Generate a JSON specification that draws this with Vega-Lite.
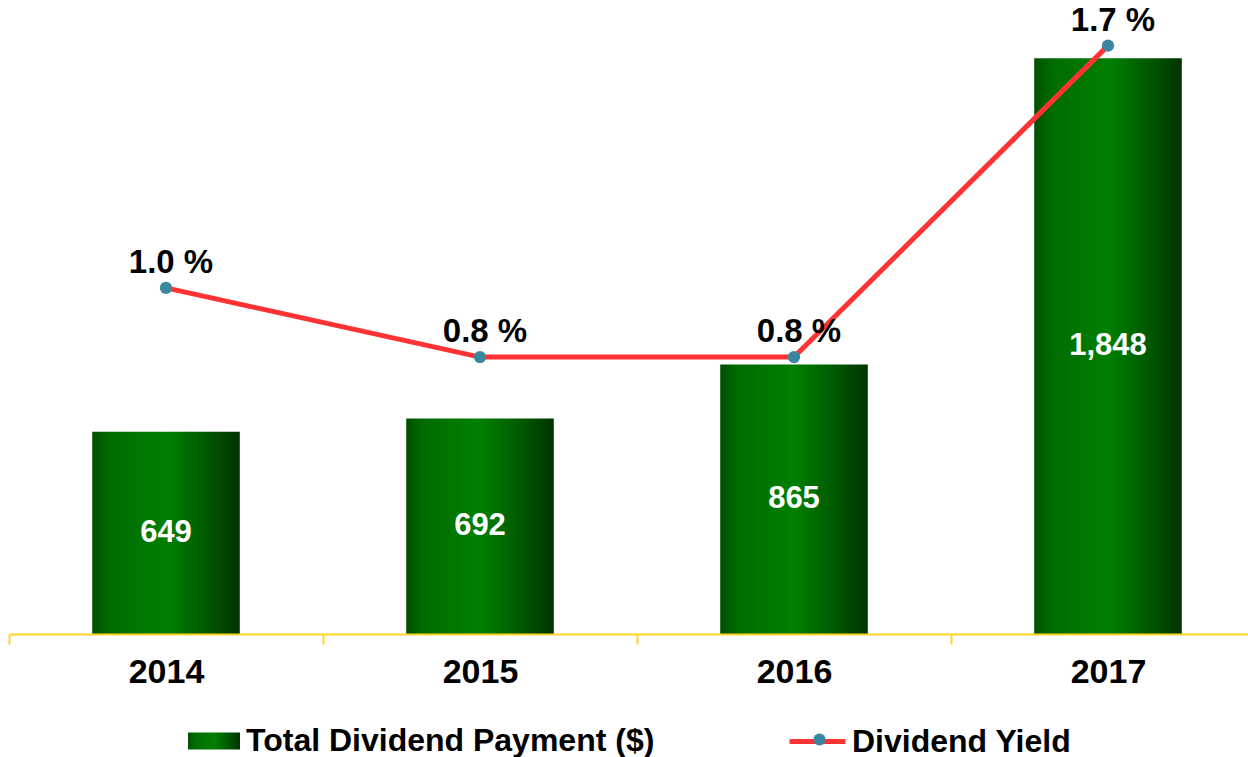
{
  "$schema": "https://vega.github.io/schema/vega-lite/v6.json",
  "width": 1239,
  "height": 623,
  "autosize": {"type": "none"},
  "padding": {"left": 9, "top": 11, "right": 0, "bottom": 123},
  "background": "white",
  "config": {
    "view": {"stroke": null},
    "font": "Liberation Sans",
    "locale": {"number": {"decimal": ".", "thousands": ",", "grouping": [3], "currency": ["", " %"]}},
    "legend": {"padding": 0}
  },
  "data": {
    "values": [
      {"year": "2014", "payment": 649, "yield": 1.0},
      {"year": "2015", "payment": 692, "yield": 0.8},
      {"year": "2016", "payment": 865, "yield": 0.8},
      {"year": "2017", "payment": 1848, "yield": 1.7}
    ]
  },
  "encoding": {
    "x": {
      "field": "year",
      "type": "nominal",
      "scale": {"range": [0, 1256], "paddingInner": 0, "paddingOuter": 0},
      "axis": {
        "title": null,
        "labelFontSize": 34,
        "labelFontWeight": "bold",
        "labelColor": "black",
        "labelPadding": 11,
        "labelAngle": 0,
        "tickBand": "extent",
        "tickColor": "#FFD42A",
        "tickSize": 10,
        "tickWidth": 2,
        "domainColor": "#FFD42A",
        "domainWidth": 2,
        "grid": false,
        "zindex": 1
      }
    }
  },
  "layer": [
    {
      "mark": {"type": "bar", "width": {"band": 0.47}, "fill": {"gradient": "linear", "x1": 0, "y1": 0, "x2": 1, "y2": 0, "stops": [
            {"offset": 0, "color": "#005000"},
            {"offset": 0.12, "color": "#006c00"},
            {"offset": 0.5, "color": "#008000"},
            {"offset": 0.78, "color": "#005800"},
            {"offset": 1, "color": "#003300"}
          ]}},
      "encoding": {
        "y": {"field": "payment", "type": "quantitative", "scale": {"domain": [0, 2000]}, "axis": null},
        "opacity": {
          "datum": "Total Dividend Payment ($)",
          "type": "nominal",
          "scale": {"range": [1]},
          "legend": {
            "orient": "none", "legendX": 179, "legendY": 704, "title": null,
            "symbolType": "M-1,-0.33H1V0.33H-1Z", "symbolSize": 2704, "symbolStrokeWidth": 0,
            "symbolFillColor": "#007000", "symbolOpacity": 1,
            "labelFontSize": 32, "labelFontWeight": "bold", "labelColor": "black",
            "labelOffset": 6, "labelLimit": 1000,
            "encode": {"symbols": {"update": {"fill": {"value": {"gradient": "linear", "x1": 0, "y1": 0, "x2": 1, "y2": 0, "stops": [
              {"offset": 0, "color": "#005000"},
              {"offset": 0.12, "color": "#006c00"},
              {"offset": 0.5, "color": "#008000"},
              {"offset": 0.78, "color": "#005800"},
              {"offset": 1, "color": "#003300"}
            ]}}}}}
          }
        }
      }
    },
    {
      "mark": {"type": "text", "color": "white", "fontSize": 31, "fontWeight": "bold", "baseline": "middle"},
      "encoding": {
        "y": {"field": "payment", "type": "quantitative", "scale": {"domain": [0, 4000]}, "axis": null},
        "text": {"field": "payment", "type": "quantitative", "format": ",d"}
      }
    },
    {
      "mark": {"type": "line", "strokeWidth": 5},
      "encoding": {
        "y": {"field": "yield", "type": "quantitative", "scale": {"domain": [0, 1.8]}, "axis": null},
        "stroke": {
          "datum": "Dividend Yield",
          "scale": {"range": ["#FF3333"]},
          "legend": {
            "orient": "none", "legendX": 778, "legendY": 700, "title": null,
            "symbolType": "stroke", "symbolSize": 3136, "symbolStrokeWidth": 5,
            "labelFontSize": 32, "labelFontWeight": "bold", "labelColor": "black",
            "labelOffset": 4, "labelLimit": 1000
          }
        }
      }
    },
    {
      "mark": {"type": "point", "filled": true, "color": "#3A87A0", "size": 150, "opacity": 1},
      "encoding": {
        "y": {"field": "yield", "type": "quantitative", "scale": {"domain": [0, 1.8]}, "axis": null},
        "shape": {
          "datum": "dot",
          "scale": {"range": ["circle"]},
          "legend": {
            "orient": "none", "legendX": 804, "legendY": 722, "title": null, "zindex": 2,
            "symbolSize": 150, "symbolFillColor": "#3A87A0", "symbolStrokeWidth": 0,
            "labelExpr": "''", "labelFontSize": 1
          }
        }
      }
    },
    {
      "mark": {"type": "text", "color": "black", "fontSize": 33, "fontWeight": "bold", "baseline": "alphabetic", "dx": 5, "dy": -15},
      "encoding": {
        "y": {"field": "yield", "type": "quantitative", "scale": {"domain": [0, 1.8]}, "axis": null},
        "text": {"field": "yield", "type": "quantitative", "format": "$.1f"}
      }
    }
  ],
  "resolve": {"scale": {"y": "independent"}}
}
